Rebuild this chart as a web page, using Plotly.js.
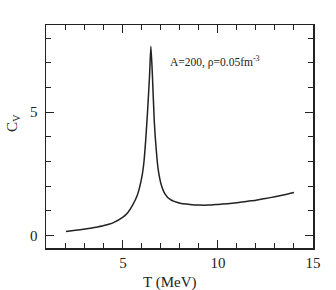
<!DOCTYPE html>
<html>
<head>
<meta charset="utf-8">
<script src="https://cdn.plot.ly/plotly-3.0.1.min.js"></script>
<style>html,body{margin:0;padding:0;background:#fff;}#chart{width:336px;height:290px;}</style>
</head>
<body>
<div id="chart"></div>
<script>
var temperature = [2, 2.5, 3, 3.5, 4, 4.5, 5, 5.25, 5.5, 5.75, 6, 6.1, 6.2, 6.3, 6.4, 6.47, 6.55, 6.65, 6.75, 6.85, 7, 7.2, 7.5, 8, 8.5, 9, 9.5, 10, 10.5, 11, 11.5, 12, 12.5, 13, 13.5, 14];
var heatCapacity = [0.16, 0.21, 0.26, 0.32, 0.40, 0.52, 0.74, 0.92, 1.22, 1.62, 2.4, 2.95, 3.9, 5.1, 6.5, 7.68, 6.5, 4.6, 3.5, 2.7, 2.1, 1.7, 1.45, 1.31, 1.26, 1.23, 1.23, 1.26, 1.29, 1.33, 1.38, 1.43, 1.50, 1.57, 1.65, 1.74];
var xTickVals = [5, 10, 15];
var yTickVals = [0, 5];
var labelText = "A=200, ρ=0.05fm<sup>-3</sup>";

var serif = "Liberation Serif, Times New Roman, serif";
var data = [{
  x: temperature, y: heatCapacity, type: "scatter", mode: "lines",
  line: {color: "#222", width: 1.5, shape: "spline", smoothing: 0.6},
  hoverinfo: "skip"
}];
var layout = {
  width: 336, height: 290,
  margin: {l: 46, r: 23, t: 25, b: 42},
  paper_bgcolor: "#fff", plot_bgcolor: "#fff",
  showlegend: false,
  font: {family: serif, size: 15, color: "#222"},
  xaxis: {
    range: [0.95, 15.001], tickvals: xTickVals, ticktext: xTickVals.map(String),
    ticks: "inside", ticklen: 8, tickwidth: 1, tickcolor: "#222",
    minor: {ticks: "inside", ticklen: 5, dtick: 1, tick0: 0, tickcolor: "#222", tickwidth: 1},
    showline: true, linecolor: "#222", linewidth: 1.5, mirror: "allticks",
    showgrid: false, zeroline: false, tickfont: {family: serif, size: 15, color: "#222"}
  },
  yaxis: {
    range: [-0.51, 8.54], tickvals: yTickVals, ticktext: yTickVals.map(String),
    ticks: "inside", ticklen: 8, tickwidth: 1, tickcolor: "#222",
    minor: {ticks: "inside", ticklen: 5, dtick: 1, tick0: 0, tickcolor: "#222", tickwidth: 1},
    showline: true, linecolor: "#222", linewidth: 1.5, mirror: "allticks",
    showgrid: false, zeroline: false, ticklabelstandoff: 4,
    tickfont: {family: serif, size: 15, color: "#222"}
  },
  annotations: [
    {xref: "x", yref: "y", x: 7.37, y: 7.05, xanchor: "left", yanchor: "middle",
     text: labelText, showarrow: false, font: {family: serif, size: 11.5, color: "#222"}},
    {xref: "paper", yref: "paper", x: (169 - 46) / 267, y: 1 + (25 - 282) / 223,
     xanchor: "center", yanchor: "middle", text: "T (MeV)", showarrow: false,
     font: {family: serif, size: 15, color: "#222"}},
    {xref: "paper", yref: "paper", x: (13 - 46) / 267, y: 1 + (25 - 123) / 223,
     xanchor: "center", yanchor: "middle", text: "C<sub>V</sub>", textangle: -90,
     showarrow: false, font: {family: serif, size: 15, color: "#222"}}
  ]
};
Plotly.newPlot("chart", data, layout, {displayModeBar: false, staticPlot: true});
</script>
</body>
</html>
